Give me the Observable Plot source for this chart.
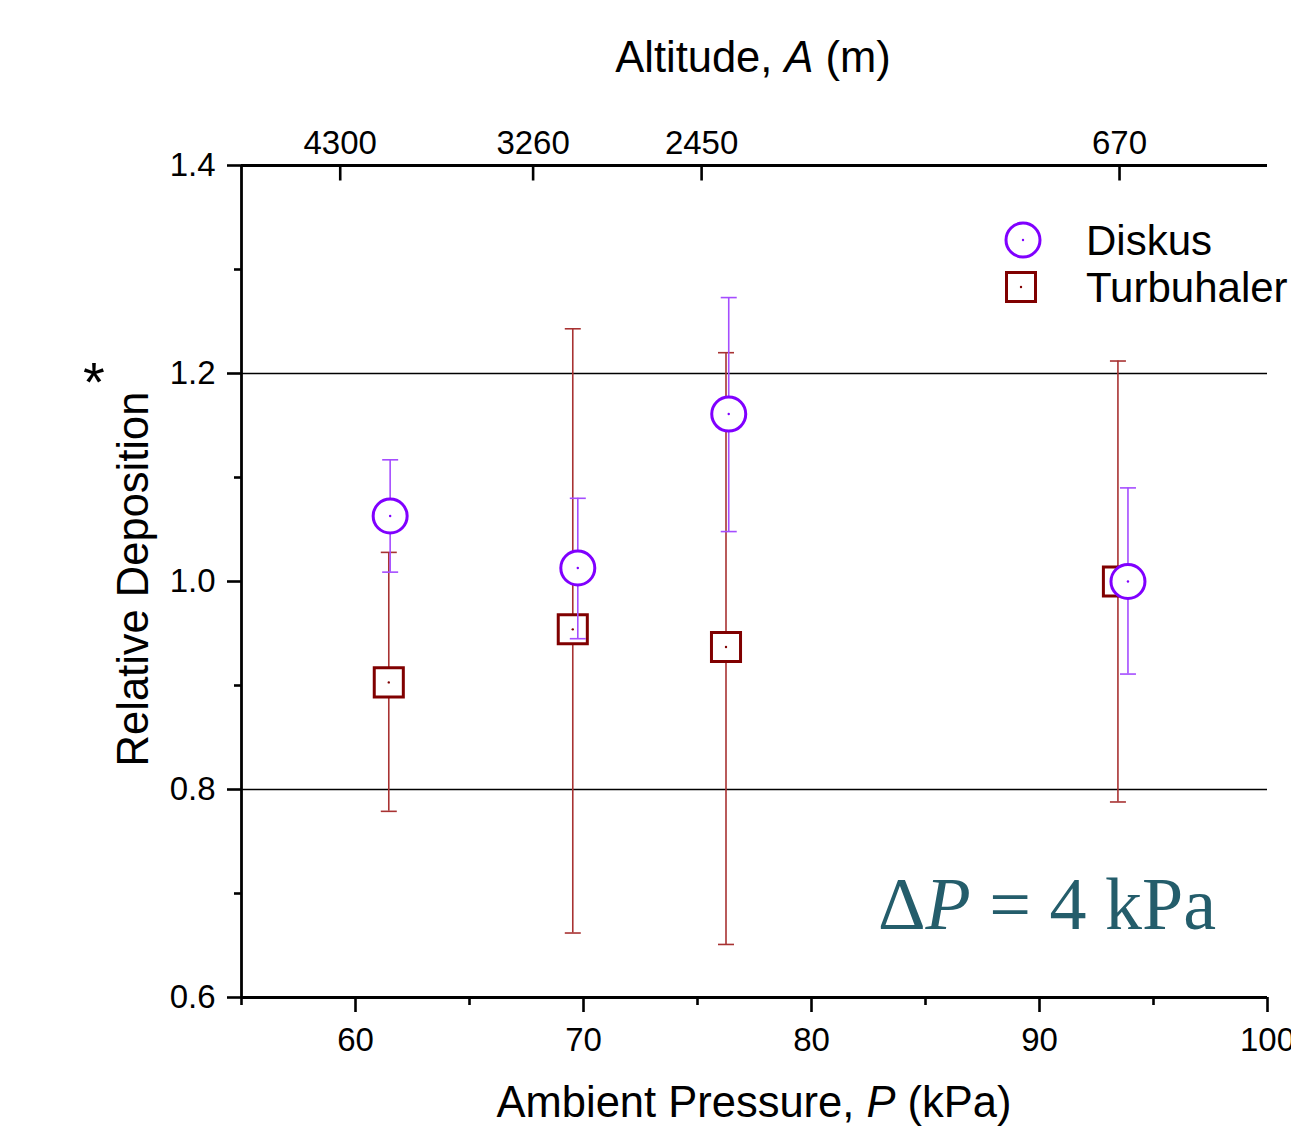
<!DOCTYPE html>
<html><head><meta charset="utf-8">
<script src="https://cdn.jsdelivr.net/npm/d3@7"></script>
<script src="https://cdn.jsdelivr.net/npm/@observablehq/plot@0.6"></script>
<style>html,body{margin:0;padding:0;background:#fff;overflow:hidden;} #chart{width:1291px;height:1128px;}</style>
</head><body><div id="chart"></div>
<script>
// ---- data ----
const seriesNames = ["Diskus", "Turbuhaler"];
const diskusP   = [61.52, 69.75, 76.37, 93.88];
const diskusDep = [1.063, 1.013, 1.161, 1.000];
const diskusLo  = [1.009, 0.945, 1.048, 0.911];
const diskusHi  = [1.117, 1.080, 1.273, 1.090];
const turbuP    = [61.46, 69.53, 76.25, 93.44];
const turbuDep  = [0.903, 0.954, 0.937, 1.000];
const turbuLo   = [0.779, 0.662, 0.651, 0.788];
const turbuHi   = [1.028, 1.243, 1.220, 1.212];
const pressureTicks = [60, 70, 80, 90, 100];
const pressureMinor = [55, 65, 75, 85, 95];
const depTicks = [0.6, 0.8, 1.0, 1.2, 1.4];
const depMinor = [0.7, 0.9, 1.1, 1.3];
const gridDep = [0.8, 1.2];
const altitudeLabels = ["4300", "3260", "2450", "670"];
const altitudeP = [59.33, 67.79, 75.18, 93.51];

const diskus = diskusP.map((p, i) => ({p, dep: diskusDep[i], lo: diskusLo[i], hi: diskusHi[i]}));
const turbu = turbuP.map((p, i) => ({p, dep: turbuDep[i], lo: turbuLo[i], hi: turbuHi[i]}));

const purple = "#8000ff", purpleBar = "#a54dff";
const maroon = "#800000", maroonBar = "#a83232";

const capSym = {draw(ctx) { ctx.moveTo(-8, 0); ctx.lineTo(8, 0); }};
const topTickSym = {draw(ctx) { ctx.moveTo(0, 0); ctx.lineTo(0, 15); }};

const chart = Plot.plot({
  width: 1291, height: 1128,
  marginLeft: 241, marginRight: 24, marginTop: 165, marginBottom: 131,
  style: {fontFamily: "'Liberation Sans', Arial, sans-serif", fontSize: "33px", color: "#000", background: "#fff"},
  x: {domain: [55, 100]},
  y: {domain: [0.6, 1.4]},
  marks: [
    Plot.ruleY(gridDep, {stroke: "#000", strokeWidth: 1.3}),
    Plot.ruleY([1.4], {stroke: "#000", strokeWidth: 2.8}),
    Plot.ruleY([0.6], {stroke: "#000", strokeWidth: 2.8}),
    Plot.ruleX([55], {stroke: "#000", strokeWidth: 2.8}),
    Plot.axisY({ticks: depTicks, tickSize: 14, tickPadding: 12, strokeWidth: 2.6, tickFormat: d => d.toFixed(1), label: null}),
    Plot.axisY({ticks: depMinor, tickSize: 7, strokeWidth: 2.6, tickFormat: () => "", label: null}),
    Plot.axisX({ticks: pressureTicks, tickSize: 15, tickPadding: 15, strokeWidth: 2.6, label: null}),
    Plot.axisX({ticks: pressureMinor, tickSize: 8, strokeWidth: 2.6, tickFormat: () => "", label: null}),
    Plot.axisX(altitudeP, {anchor: "top", tickSize: 0, tickPadding: 12, tickFormat: d => altitudeLabels[altitudeP.indexOf(d)], label: null}),
    Plot.dot(altitudeP, {x: d => d, frameAnchor: "top", symbol: topTickSym, fill: "none", stroke: "#000", strokeWidth: 2.6}),
    // Turbuhaler
    Plot.ruleX(turbu, {x: "p", y1: "lo", y2: "hi", stroke: maroonBar, strokeWidth: 1.6}),
    Plot.dot(turbu, {x: "p", y: "lo", symbol: capSym, fill: "none", stroke: maroonBar, strokeWidth: 1.6}),
    Plot.dot(turbu, {x: "p", y: "hi", symbol: capSym, fill: "none", stroke: maroonBar, strokeWidth: 1.6}),
    Plot.dot(turbu, {x: "p", y: "dep", symbol: "square", r: 16.4, fill: "#fff", stroke: maroon, strokeWidth: 3}),
    Plot.dot(turbu, {x: "p", y: "dep", r: 1.2, fill: maroon}),
    // Diskus
    Plot.ruleX(diskus, {x: "p", y1: "lo", y2: "hi", stroke: purpleBar, strokeWidth: 1.6}),
    Plot.dot(diskus, {x: "p", y: "lo", symbol: capSym, fill: "none", stroke: purpleBar, strokeWidth: 1.6}),
    Plot.dot(diskus, {x: "p", y: "hi", symbol: capSym, fill: "none", stroke: purpleBar, strokeWidth: 1.6}),
    Plot.dot(diskus, {x: "p", y: "dep", r: 17, fill: "#fff", stroke: purple, strokeWidth: 3}),
    Plot.dot(diskus, {x: "p", y: "dep", r: 1.2, fill: purple})
  ]
});
document.getElementById("chart").appendChild(chart);

const svg = d3.select(chart);
const sans = "'Liberation Sans', Arial, sans-serif";
// top axis title
const t1 = svg.append("text").attr("x", 753).attr("y", 72).attr("text-anchor", "middle")
  .attr("font-family", sans).attr("font-size", 43.5).attr("fill", "#000");
t1.append("tspan").text("Altitude, ");
t1.append("tspan").attr("font-style", "italic").text("A");
t1.append("tspan").text(" (m)");
// bottom axis title
const t2 = svg.append("text").attr("x", 754).attr("y", 1117).attr("text-anchor", "middle")
  .attr("font-family", sans).attr("font-size", 43.5).attr("fill", "#000");
t2.append("tspan").text("Ambient Pressure, ");
t2.append("tspan").attr("font-style", "italic").text("P");
t2.append("tspan").text(" (kPa)");
// y title
svg.append("text").attr("transform", "translate(148,579) rotate(-90)").attr("text-anchor", "middle")
  .attr("font-family", sans).attr("font-size", 43.5).attr("fill", "#000").text("Relative Deposition");
svg.append("text").attr("x", 94).attr("y", 401).attr("text-anchor", "middle")
  .attr("font-family", sans).attr("font-size", 56).attr("fill", "#000").text("*");
// annotation
const t3 = svg.append("text").attr("x", 878).attr("y", 929).attr("text-anchor", "start")
  .attr("font-family", "'Liberation Serif', 'Times New Roman', serif").attr("font-size", 74).attr("fill", "#245d6b");
t3.append("tspan").text("Δ");
t3.append("tspan").attr("font-style", "italic").text("P");
t3.append("tspan").text(" = 4 kPa");
// legend
const lg = svg.append("g").attr("text-anchor", "start");
lg.append("circle").attr("cx", 1023).attr("cy", 240).attr("r", 17).attr("fill", "#fff").attr("stroke", purple).attr("stroke-width", 3);
lg.append("circle").attr("cx", 1023).attr("cy", 240).attr("r", 1.2).attr("fill", purple);
lg.append("rect").attr("x", 1021 - 14.5).attr("y", 287 - 14.5).attr("width", 29).attr("height", 29).attr("fill", "#fff").attr("stroke", maroon).attr("stroke-width", 3);
lg.append("circle").attr("cx", 1021).attr("cy", 287).attr("r", 1.2).attr("fill", maroon);
lg.append("text").attr("x", 1086).attr("y", 255).attr("font-family", sans).attr("font-size", 42).attr("fill", "#000").text(seriesNames[0]);
lg.append("text").attr("x", 1086).attr("y", 302).attr("font-family", sans).attr("font-size", 42).attr("fill", "#000").text(seriesNames[1]);
</script>
</body></html>
